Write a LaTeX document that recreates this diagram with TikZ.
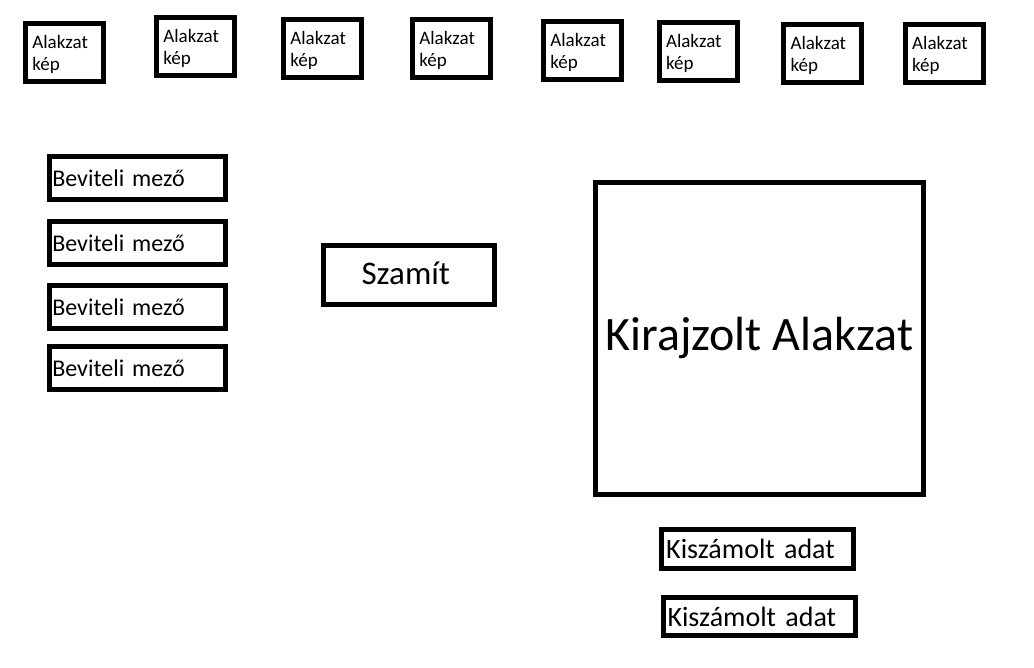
\documentclass[tikz,border=0pt]{standalone}
\usepackage{fontspec}
\setmainfont{Carlito}
\newcommand\shapetext{\rule{0pt}{18pt}Alakzat\\kép}
\begin{document}
\begin{tikzpicture}[x=1pt,y=-1pt,
  frame/.style={draw=black, line width=5pt, inner ysep=0pt, rectangle},
  shapebox/.style={frame, minimum width=78pt, minimum height=58pt, text width=64pt, inner xsep=7pt, align=left, font=\fontsize{19}{22}\selectfont},
  inputbox/.style={frame, minimum width=176pt, minimum height=43pt, text width=170pt, inner xsep=3pt, align=left, font=\fontsize{24}{28}\selectfont},
  calcbox/.style={frame, minimum width=171pt, minimum height=58.4pt, inner xsep=0pt, align=center, font=\fontsize{33}{38}\selectfont},
  drawbox/.style={frame, minimum width=328pt, minimum height=312pt, inner xsep=0pt, align=center, font=\fontsize{48}{56}\selectfont},
  resultbox/.style={frame, minimum width=192pt, minimum height=38.4pt, text width=183pt, inner xsep=4.5pt, align=left, font=\fontsize{28}{32}\selectfont}]
\useasboundingbox (0,0) rectangle (1034,668);
\fill[white] (0,0) rectangle (1034,668);
% top row of shape pictures
\node[shapebox] (s1) at (64.3,52.3) {\shapetext};
\node[shapebox] (s2) at (195.3,46.3) {\shapetext};
\node[shapebox] (s3) at (322.3,48.5) {\shapetext};
\node[shapebox] (s4) at (451.3,48.5) {\shapetext};
\node[shapebox] (s5) at (582.3,50.3) {\shapetext};
\node[shapebox] (s6) at (698,51.5) {\shapetext};
\node[shapebox] (s7) at (822.5,53.3) {\shapetext};
\node[shapebox] (s8) at (944.2,53.3) {\shapetext};
% input fields
\node[inputbox] (i1) at (137.3,178) {Beviteli mező};
\node[inputbox] (i2) at (137.3,243) {Beviteli mező};
\node[inputbox] (i3) at (137.3,307) {Beviteli mező};
\node[inputbox] (i4) at (137.3,368) {Beviteli mező};
% compute button
\node[calcbox] (calc) at (408.8,275) {\raisebox{4pt}{\hspace*{-6pt}Szamít}};
% drawing area
\node[drawbox] (draw) at (759.3,338.3) {\raisebox{-6pt}{Kirajzolt Alakzat}};
% results
\node[resultbox] (r1) at (757.7,549) {Kiszámolt adat};
\node[resultbox] (r2) at (759,616.7) {Kiszámolt adat};
\end{tikzpicture}
\end{document}
